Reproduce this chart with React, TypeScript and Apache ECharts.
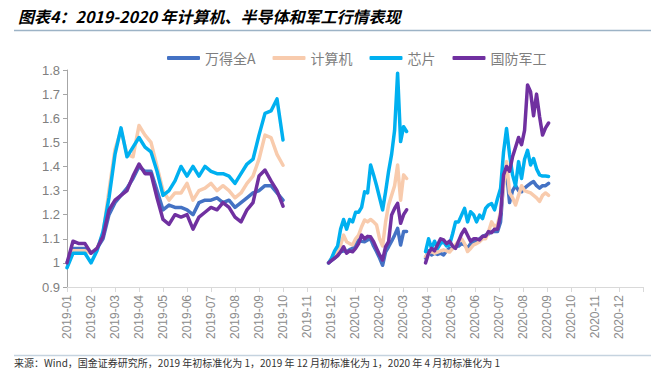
import React, { useEffect, useRef } from "react";
import * as echarts from "echarts";

const MONTH_LABELS = [
  "2019-01", "2019-02", "2019-03", "2019-04", "2019-05", "2019-06",
  "2019-07", "2019-08", "2019-09", "2019-10", "2019-11", "2019-12",
  "2020-01", "2020-02", "2020-03", "2020-04", "2020-05", "2020-06",
  "2020-07", "2020-08", "2020-09", "2020-10", "2020-11", "2020-12",
];

const SERIES_NAMES = ["万得全A", "计算机", "芯片", "国防军工"];
const SERIES_COLORS = ["#4472C4", "#F8CBAD", "#00B0F0", "#7030A0"];

// segment start (month index from 2019-01) and sampling step (months)
const SEG_START = [0, 10.9, 14.94];
const SEG_STEP = [0.25, 0.125, 0.125];

const WINDA_1 = [1.00,1.06,1.06,1.06,1.04,1.06,1.10,1.20,1.25,1.28,1.31,1.35,1.40,1.38,1.38,1.30,1.22,1.24,1.23,1.23,1.22,1.20,1.25,1.26,1.26,1.27,1.25,1.26,1.23,1.25,1.27,1.29,1.30,1.32,1.32,1.29,1.26];
const WINDA_2 = [1.00,1.01,1.02,1.03,1.046,1.05,1.046,1.055,1.06,1.075,1.095,1.09,1.088,1.095,1.10,1.07,1.046,1.02,0.99,1.046,1.067,1.09,1.115,1.143,1.074,1.13,1.13];
const WINDA_3 = [1.02,1.05,1.033,1.04,1.035,1.04,1.033,1.05,1.06,1.06,1.068,1.07,1.08,1.075,1.06,1.08,1.088,1.09,1.10,1.11,1.115,1.12,1.13,1.13,1.13,1.17,1.337,1.378,1.25,1.30,1.32,1.30,1.295,1.31,1.32,1.33,1.337,1.32,1.31,1.32,1.32,1.33];

const CS_1 = [1.00,1.05,1.05,1.05,1.04,1.06,1.12,1.30,1.47,1.55,1.45,1.44,1.57,1.53,1.50,1.40,1.30,1.26,1.29,1.29,1.33,1.26,1.30,1.31,1.33,1.30,1.32,1.30,1.27,1.29,1.33,1.36,1.43,1.53,1.52,1.45,1.405];
const CS_2 = [1.00,1.02,1.033,1.05,1.074,1.115,1.088,1.08,1.074,1.10,1.115,1.15,1.178,1.17,1.18,1.17,1.157,1.10,1.07,1.17,1.24,1.28,1.32,1.406,1.26,1.365,1.35];
const CS_3 = [1.026,1.04,1.047,1.04,1.045,1.05,1.054,1.05,1.045,1.06,1.075,1.09,1.10,1.08,1.047,1.06,1.075,1.08,1.088,1.10,1.10,1.13,1.17,1.15,1.16,1.212,1.32,1.42,1.29,1.27,1.24,1.28,1.32,1.30,1.295,1.29,1.28,1.27,1.255,1.28,1.29,1.28];

const XP_1 = [0.98,1.04,1.04,1.04,1.00,1.05,1.13,1.27,1.45,1.56,1.44,1.48,1.52,1.48,1.46,1.38,1.28,1.30,1.34,1.40,1.36,1.40,1.36,1.40,1.38,1.37,1.37,1.36,1.33,1.37,1.41,1.43,1.53,1.62,1.63,1.68,1.51];
const XP_2 = [1.00,1.02,1.05,1.07,1.14,1.18,1.14,1.18,1.17,1.21,1.21,1.23,1.295,1.29,1.406,1.365,1.32,1.27,1.22,1.295,1.38,1.45,1.55,1.787,1.503,1.565,1.545];
const XP_3 = [1.047,1.10,1.06,1.09,1.06,1.08,1.088,1.07,1.075,1.12,1.17,1.17,1.198,1.226,1.17,1.212,1.20,1.17,1.198,1.184,1.226,1.24,1.246,1.22,1.267,1.308,1.46,1.557,1.45,1.365,1.32,1.42,1.35,1.43,1.467,1.406,1.433,1.39,1.365,1.36,1.36,1.358];

const JG_1 = [1.00,1.09,1.08,1.08,1.04,1.06,1.11,1.22,1.26,1.28,1.30,1.36,1.41,1.37,1.37,1.27,1.18,1.16,1.20,1.19,1.20,1.14,1.19,1.21,1.23,1.22,1.25,1.23,1.19,1.17,1.22,1.25,1.36,1.385,1.34,1.30,1.235];
const JG_2 = [1.00,1.01,1.02,1.03,1.046,1.067,1.04,1.05,1.046,1.06,1.08,1.115,1.10,1.11,1.108,1.088,1.06,1.033,1.012,1.067,1.088,1.199,1.226,1.247,1.164,1.20,1.22];
const JG_3 = [1.00,1.04,1.06,1.05,1.075,1.10,1.095,1.08,1.09,1.07,1.06,1.09,1.12,1.14,1.115,1.09,1.10,1.10,1.095,1.11,1.11,1.13,1.125,1.14,1.14,1.20,1.365,1.40,1.38,1.44,1.48,1.52,1.49,1.55,1.738,1.71,1.61,1.70,1.607,1.53,1.56,1.58];

const SERIES_SEGMENTS = [
  [WINDA_1, WINDA_2, WINDA_3],
  [CS_1, CS_2, CS_3],
  [XP_1, XP_2, XP_3],
  [JG_1, JG_2, JG_3],
];

const Y_MIN = 0.9;
const Y_MAX = 1.8;

function buildData(segs: number[][]) {
  const out: any[] = [];
  segs.forEach((vals, i) => {
    vals.forEach((v, k) => out.push([SEG_START[i] + k * SEG_STEP[i], v]));
    if (i < segs.length - 1) {
      out.push([SEG_START[i] + vals.length * SEG_STEP[i], "-"]);
    }
  });
  return out;
}

export default function App() {
  const ref = useRef<HTMLDivElement>(null);
  useEffect(() => {
    if (!ref.current) return;
    const chart = echarts.init(ref.current, null, { renderer: "svg" });
    const axisFont = "'Liberation Sans', Arial, sans-serif";
    chart.setOption({
      animation: false,
      backgroundColor: "#ffffff",
      graphic: [
        {
          type: "text",
          left: 18,
          top: 8,
          style: {
            text: "图表4：2019-2020 年计算机、半导体和军工行情表现",
            font: "italic bold 16px 'Noto Sans CJK SC', sans-serif",
            fill: "#000000",
          },
        },
        {
          type: "line",
          shape: { x1: 14, y1: 30.5, x2: 651, y2: 30.5 },
          style: { stroke: "#9DB3C6", lineWidth: 1.5 },
        },
        {
          type: "line",
          shape: { x1: 14, y1: 355.5, x2: 651, y2: 355.5 },
          style: { stroke: "#C5D3DF", lineWidth: 1.5 },
        },
        {
          type: "text",
          left: 14,
          top: 357,
          style: {
            text: "来源：Wind，国金证券研究所，2019 年初标准化为 1，2019 年 12 月初标准化为 1，2020 年 4 月初标准化为 1",
            font: "10px 'Noto Sans CJK SC', sans-serif",
            fill: "#333333",
          },
        },
      ],
      legend: {
        top: 46,
        left: 162,
        icon: "roundRect",
        itemWidth: 33,
        itemHeight: 4,
        itemGap: 17,
        textStyle: {
          color: "#7F7F7F",
          fontSize: 14,
          fontFamily: "'Noto Sans CJK SC', sans-serif",
        },
        data: SERIES_NAMES,
      },
      grid: { left: 67, right: 21, top: 70, bottom: 82, containLabel: false },
      xAxis: {
        type: "value",
        min: 0,
        max: 24,
        interval: 1,
        splitLine: { show: false },
        axisLine: { show: true, lineStyle: { color: "#D9D9D9", width: 1 } },
        axisTick: { show: true, length: 5, lineStyle: { color: "#D9D9D9" } },
        axisLabel: {
          rotate: 90,
          color: "#8C8C8C",
          fontSize: 12,
          fontFamily: axisFont,
          margin: 8,
          formatter: (v: number) => MONTH_LABELS[Math.round(v)] ?? "",
        },
      },
      yAxis: {
        type: "value",
        min: Y_MIN,
        max: Y_MAX,
        interval: 0.1,
        splitLine: { show: false },
        axisLine: { show: true, lineStyle: { color: "#A6A6A6", width: 1 } },
        axisTick: { show: true, length: 4, lineStyle: { color: "#A6A6A6" } },
        axisLabel: {
          color: "#808080",
          fontSize: 13,
          fontFamily: axisFont,
          margin: 7,
          formatter: (v: number) => String(Number(v.toFixed(1))),
        },
      },
      series: SERIES_NAMES.map((name, i) => ({
        name,
        type: "line",
        data: buildData(SERIES_SEGMENTS[i]),
        showSymbol: false,
        symbol: "none",
        connectNulls: false,
        color: SERIES_COLORS[i],
        lineStyle: { color: SERIES_COLORS[i], width: 3.5, join: "round", cap: "round" },
        z: 2 + i,
      })),
    });
    return () => chart.dispose();
  }, []);
  return (
    <div
      ref={ref}
      style={{ position: "fixed", left: 0, top: 0, width: 664, height: 369 }}
    />
  );
}
